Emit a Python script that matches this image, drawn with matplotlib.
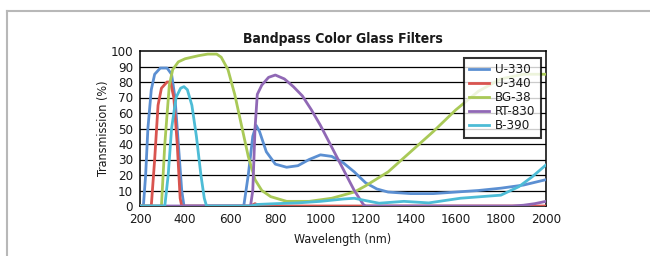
import matplotlib
matplotlib.use("Agg")
import matplotlib.pyplot as plt
from matplotlib.lines import Line2D

plt.rcParams['font.family'] = ['DejaVu Sans']
plt.rcParams['font.stretch'] = 'condensed'
TXT = "#1a1a1a"

u330_x = [200, 215, 225, 235, 250, 265, 290, 320, 340, 355, 370, 385, 395, 500, 600, 660, 680, 700, 715, 730, 760, 800, 850, 900, 950, 1000, 1050, 1100, 1150, 1200, 1250, 1300, 1400, 1500, 1600, 1700, 1800, 1900, 2000]
u330_y = [0, 0, 20, 50, 75, 85, 89, 89, 85, 70, 40, 10, 0, 0, 0, 0, 20, 45, 52, 48, 35, 27, 25, 26, 30, 33, 32, 28, 22, 15, 11, 9, 8, 8, 9, 10, 11.5, 13.5, 17]

u340_x = [200, 250, 265, 280, 295, 320, 335, 350, 365, 378, 385, 690, 710, 730, 2000]
u340_y = [0, 0, 30, 65, 76, 80, 80, 70, 40, 5, 0, 0, 1.5, 0, 0]

bg38_x = [200, 295, 310, 330, 345, 370, 400, 430, 460, 500, 540, 560, 590, 620, 650, 680, 710, 740, 780, 850, 950, 1050, 1150, 1200, 1300, 1400, 1500, 1600, 1700, 1800, 1900, 2000]
bg38_y = [0, 0, 40, 78, 88, 93, 95, 96, 97, 98, 98, 96, 88, 72, 52, 32, 17, 10, 6, 3, 3, 5, 9, 13, 22, 35, 48, 62, 74, 82, 85, 85]

rt830_x = [200, 690, 700, 710, 720, 740, 770, 800, 840, 880, 920, 960, 1000, 1050, 1100, 1150, 1190, 1200, 1850, 1900, 1950, 2000]
rt830_y = [0, 0, 10, 50, 72, 78, 83, 84.5, 82, 77, 71, 62, 52, 38, 24, 10, 1, 0, 0, 0.5, 1.5, 3]

b390_x = [200, 310, 325, 340, 360, 380, 395, 410, 430, 450, 470, 485, 495, 690, 720, 800, 900, 1000, 1100, 1150, 1200, 1260, 1370, 1480, 1620, 1800, 1880, 1940, 2000]
b390_y = [0, 0, 20, 50, 70, 76, 77, 75, 65, 45, 20, 5, 0, 0, 1, 1.5, 2, 3, 4.5, 5, 3.5, 1.8, 3, 2, 5, 7, 12.5, 19, 26.5]

series = [
    ("U-330", u330_x, u330_y, "#5b8fd2"),
    ("U-340", u340_x, u340_y, "#d9544f"),
    ("BG-38", bg38_x, bg38_y, "#a9c957"),
    ("RT-830", rt830_x, rt830_y, "#9068b5"),
    ("B-390", b390_x, b390_y, "#4dbcd6"),
]

xticks = [200, 400, 600, 800, 1000, 1200, 1400, 1600, 1800, 2000]
yticks = [0, 10, 20, 30, 40, 50, 60, 70, 80, 90, 100]

fig = plt.figure(figsize=(6.5, 2.56), dpi=100)
fig.patch.set_facecolor("white")
# partial frame (top and left)
fig.add_artist(Line2D([7/650, 7/650], [0, 1 - 11/256], color="#b8b8b8", lw=1.5, transform=fig.transFigure))
fig.add_artist(Line2D([7/650, 1], [1 - 11/256, 1 - 11/256], color="#b8b8b8", lw=1.5, transform=fig.transFigure))

ax = fig.add_axes([140/650, 50/256, 406/650, 155/256])
for y in yticks[1:-1]:
    ax.axhline(y, color="black", lw=0.9, zorder=1)
for name, xs, ys, c in series:
    ax.plot(xs, ys, color=c, lw=2.0, label=name, zorder=3, solid_joinstyle="round")

ax.set_xlim(200, 2000)
ax.set_ylim(0, 100)
ax.set_xticks(xticks)
ax.set_yticks(yticks)
ax.tick_params(axis="x", length=0, labelsize=9.5, pad=5, colors=TXT)
ax.tick_params(axis="y", length=0, labelsize=9.5, pad=5, colors=TXT)
for s in ax.spines.values():
    s.set_color("black")
    s.set_linewidth(1.1)

ax.set_xlabel("Wavelength (nm)", fontsize=9, color=TXT, labelpad=5)
ax.set_ylabel("Transmission (%)", fontsize=9, color=TXT, labelpad=0)
ax.set_title("Bandpass Color Glass Filters", fontsize=10, fontweight="bold", color=TXT, pad=6)

leg = ax.legend(loc="upper left", bbox_to_anchor=(0.798, 0.955), frameon=True, fancybox=False,
                prop={"size": 9.5, "stretch": "condensed"}, handlelength=1.5, handletextpad=0.45,
                labelspacing=0.08, borderpad=0.4, borderaxespad=0)
leg.get_frame().set_edgecolor("black")
leg.get_frame().set_linewidth(1.5)
leg.set_zorder(5)
for t in leg.get_texts():
    t.set_color(TXT)

fig.savefig("out.png", dpi=100, facecolor="white")
